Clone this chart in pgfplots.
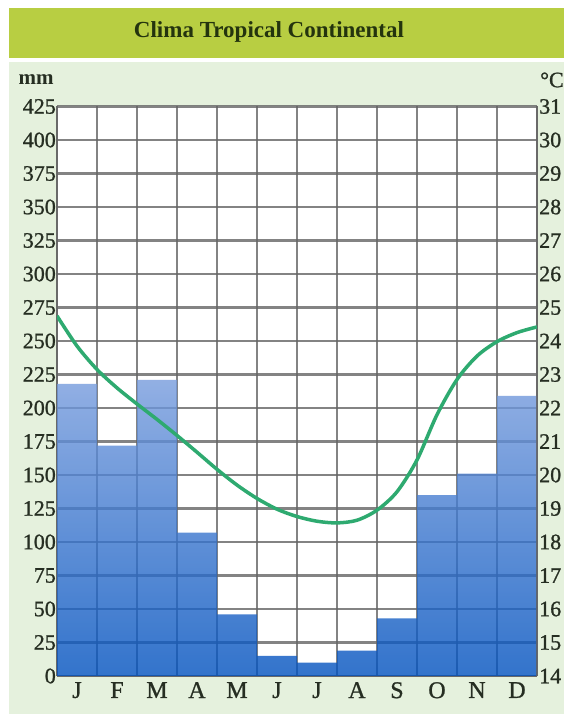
\documentclass[border=0pt]{standalone}
\usepackage{pgfplots}
\pgfplotsset{compat=1.18}
\usepackage{fontspec}
\setmainfont{Liberation Serif}
\newfontfamily\tickfont{Liberation Serif}[UprightFeatures={FakeBold=1.0}]

\definecolor{band}{RGB}{184,206,66}
\definecolor{paper}{RGB}{229,241,221}
\definecolor{ink}{RGB}{38,46,34}
\definecolor{titleink}{RGB}{36,52,14}
\definecolor{gridc}{RGB}{100,100,100}
\definecolor{curve}{RGB}{46,170,112}
\definecolor{bartop}{RGB}{119,156,221}
\definecolor{barbot}{RGB}{0,81,191}

\begin{document}
\begin{tikzpicture}
\useasboundingbox (0,0) rectangle (564pt,714pt);
\clip (0,0) rectangle (564pt,714pt);
\fill[white] (0,0) rectangle (564pt,714pt);
\fill[paper] (9pt,0) rectangle (564pt,652pt);
\fill[band] (9pt,656pt) rectangle (564pt,706pt);
\node[titleink, font=\fontsize{23}{26}\selectfont\bfseries] at (269pt,682pt) {Clima Tropical Continental};
\node[ink, font=\fontsize{21}{24}\selectfont\bfseries] at (36pt,634pt) {mm};
\node[ink, font=\tickfont\fontsize{22}{24}\selectfont, anchor=west, inner sep=0pt] at (540pt,634pt) {°C};

% precipitation, mm
\begin{axis}[
    at={(57pt,38pt)}, anchor=south west,
    scale only axis, width=480pt, height=569.5pt,
    xmin=-0.5, xmax=11.5, ymin=0, ymax=425,
    xtick={0,...,11},
    xticklabels={J,F,M,A,M,J,J,A,S,O,N,D},
    minor xtick={-0.5,0.5,...,11.5},
    ytick={0,25,...,425},
    xminorgrids=true, ymajorgrids=true,
    major tick length=0pt, minor tick length=0pt,
    axis background/.style={fill=white},
    axis line style={gridc, line width=2.2pt, opacity=0.8},
    minor grid style={gridc, line width=2.2pt, opacity=0.8},
    major grid style={gridc, line width=2.2pt, opacity=0.8},
    /pgf/number format/assume math mode=true,
    tick label style={ink, font=\tickfont\fontsize{22}{24}\selectfont},
    yticklabel style={inner sep=1pt},
    xticklabel style={font=\tickfont\fontsize{24}{26}\selectfont, inner sep=0pt, yshift=-6pt},
    axis y line*=left,
    axis x line*=bottom,
    separate axis lines,
    ybar, bar width=1,
]
\addplot[draw=none, fill opacity=0.8, top color=bartop, bottom color=barbot] coordinates {
    (0,218) (1,172) (2,221) (3,107) (4,46) (5,15)
    (6,10) (7,19) (8,43) (9,135) (10,151) (11,209)
};
\end{axis}

% temperature, degrees C
\begin{axis}[
    at={(57pt,38pt)}, anchor=south west,
    scale only axis, width=480pt, height=569.5pt,
    xmin=-0.5, xmax=11.5, ymin=14, ymax=31,
    ytick={14,...,31},
    axis x line=none,
    axis y line*=right,
    y axis line style={gridc, line width=2.2pt, opacity=0.8, -},
    major tick length=0pt,
    /pgf/number format/assume math mode=true,
    tick label style={ink, font=\tickfont\fontsize{22}{24}\selectfont},
    yticklabel style={inner sep=2pt},
]
\addplot[curve, line width=3.5pt, smooth] coordinates {
    (-0.5,24.75) (0,23.85) (0.5,23.15) (1,22.6) (1.5,22.12) (2,21.66)
    (2.5,21.18) (3,20.68) (3.5,20.17) (4,19.7) (4.5,19.3) (5,18.98)
    (5.5,18.76) (6,18.62) (6.5,18.57) (7,18.65) (7.5,18.95) (8,19.5)
    (8.5,20.45) (9,21.8) (9.5,22.85) (10,23.55) (10.5,23.98) (11,24.25)
    (11.5,24.42)
};
\end{axis}
\end{tikzpicture}
\end{document}
